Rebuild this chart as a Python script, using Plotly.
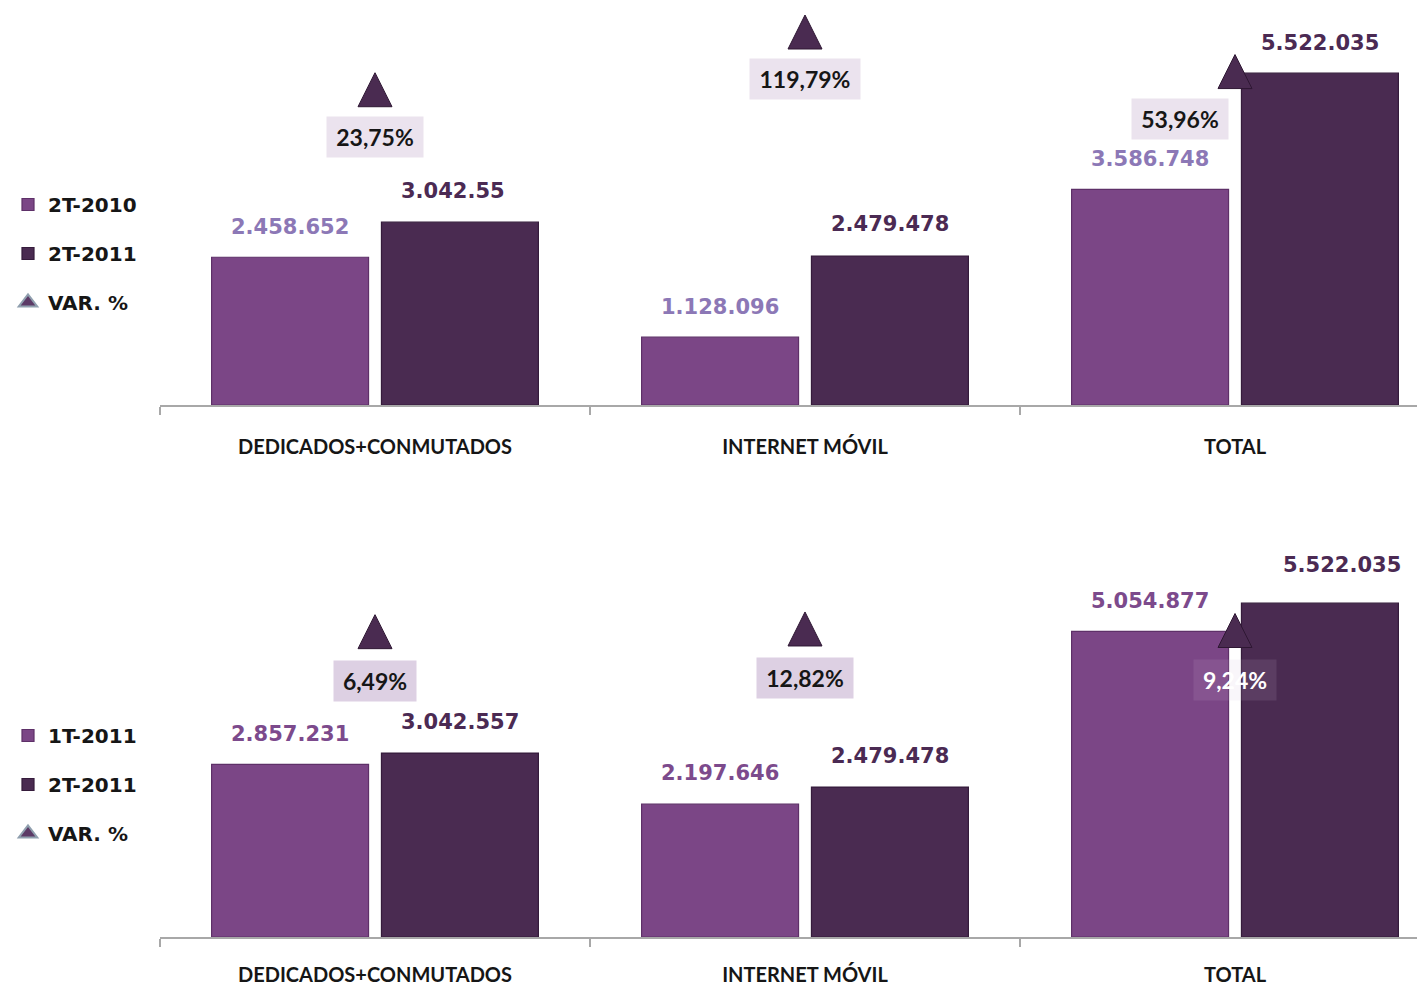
import plotly.graph_objects as go

# ---------------- data ----------------
categories = ["DEDICADOS+CONMUTADOS", "INTERNET MÓVIL", "TOTAL"]

top_series_a_name = "2T-2010"
top_series_b_name = "2T-2011"
top_a_values = [2458652, 1128096, 3586748]
top_b_values = [3042557, 2479478, 5522035]
top_a_labels = ["2.458.652", "1.128.096", "3.586.748"]
top_b_labels = ["3.042.55", "2.479.478", "5.522.035"]
top_var_values = [23.75, 119.79, 53.96]
top_var_labels = ["23,75%", "119,79%", "53,96%"]

bot_series_a_name = "1T-2011"
bot_series_b_name = "2T-2011"
bot_a_values = [2857231, 2197646, 5054877]
bot_b_values = [3042557, 2479478, 5522035]
bot_a_labels = ["2.857.231", "2.197.646", "5.054.877"]
bot_b_labels = ["3.042.557", "2.479.478", "5.522.035"]
bot_var_values = [6.49, 12.82, 9.24]
bot_var_labels = ["6,49%", "12,82%", "9,24%"]

var_name = "VAR. %"

# ---------------- style ----------------
PAGE_OFF = 8          # default page margin around the figure
W, H = 1425 - PAGE_OFF, 986 - PAGE_OFF
COL_A = "#7b4686"
COL_B = "#4a2b51"
COL_A_LINE = "#5e3068"
COL_B_LINE = "#351b3b"
LBL_A_TOP = "#8c78b6"
LBL_A_BOT = "#7c4a8c"
LBL_B = "#4b2a53"
TXT = "#161616"
AXIS_COL = "#a8a8a8"
VALUE_FONT = "DejaVu Sans"
CAT_FONT = "Lato"

BAR_W = 0.365
OFF_A = -0.38
OFF_B = 0.015
CEN_A = OFF_A + BAR_W / 2
CEN_B = OFF_B + BAR_W / 2


def py(p):
    return 1 - (p - PAGE_OFF) / H


def px(p):
    return (p - PAGE_OFF) / W


fig = go.Figure()


def add_panel(xa, ya, ya2, legend, a_name, b_name, a_vals, b_vals, var_vals):
    fig.add_trace(go.Bar(
        x=categories, y=a_vals, name=a_name, xaxis=xa, yaxis=ya,
        offset=OFF_A, width=BAR_W, legend=legend, legendgroup=legend + "a",
        marker=dict(color=COL_A, line=dict(color=COL_A_LINE, width=1.2)),
        hoverinfo="y"))
    fig.add_trace(go.Bar(
        x=categories, y=b_vals, name=b_name, xaxis=xa, yaxis=ya,
        offset=OFF_B, width=BAR_W, legend=legend, legendgroup=legend + "b",
        marker=dict(color=COL_B, line=dict(color=COL_B_LINE, width=1.2)),
        hoverinfo="y"))
    fig.add_trace(go.Scatter(
        x=categories, y=var_vals, name=var_name, xaxis=xa, yaxis=ya2,
        mode="markers", showlegend=False,
        marker=dict(symbol="arrow-up", size=34, color=COL_B,
                    line=dict(color="#2e1733", width=1))))
    # legend-only entry for the triangle series
    fig.add_trace(go.Scatter(
        x=[None], y=[None], name=var_name, xaxis=xa, yaxis=ya2,
        mode="markers", legend=legend, legendgroup=legend + "v",
        marker=dict(symbol="triangle-up", size=19, color="#5c3a66",
                    line=dict(color="#8f9fae", width=2))))


add_panel("x", "y", "y2", "legend", top_series_a_name, top_series_b_name,
          top_a_values, top_b_values, top_var_values)
add_panel("x2", "y3", "y4", "legend2", bot_series_a_name, bot_series_b_name,
          bot_a_values, bot_b_values, bot_var_values)

annotations = []


def value_labels(xref, yref, vals, labels, cen, color, shifts):
    for i, (v, t) in enumerate(zip(vals, labels)):
        dx, dy = shifts[i]
        annotations.append(dict(
            x=i + cen, y=v, xref=xref, yref=yref, text=t, showarrow=False,
            xanchor="center", yanchor="middle", yshift=30 + dy, xshift=dx,
            font=dict(family=VALUE_FONT, size=21, color=color, weight="bold")))


value_labels("x", "y", top_a_values, top_a_labels, CEN_A, LBL_A_TOP, [(0, 0), (0, 0), (0, 0)])
value_labels("x", "y", top_b_values, top_b_labels, CEN_B, LBL_B, [(-7, 1), (0, 2), (0, 0)])
value_labels("x2", "y3", bot_a_values, bot_a_labels, CEN_A, LBL_A_BOT, [(0, 0), (0, 1), (0, 0)])
value_labels("x2", "y3", bot_b_values, bot_b_labels, CEN_B, LBL_B, [(0, 1), (0, 1), (22, 8)])


def var_labels(xref, yref, vals, labels, bgs, colors, xshifts, yshift):
    for i, (v, t) in enumerate(zip(vals, labels)):
        annotations.append(dict(
            x=i, y=v, xref=xref, yref=yref, text=t, showarrow=False,
            xanchor="center", yanchor="middle", yshift=yshift, xshift=xshifts[i],
            width=14 * len(t) + 2, height=30, borderpad=5, bgcolor=bgs[i],
            font=dict(family=CAT_FONT, size=23, color=colors[i], weight="bold")))


var_labels("x", "y2", top_var_values, top_var_labels,
           ["#ebe3ee"] * 3, [TXT] * 3, [0, 0, -55], -64)
var_labels("x2", "y4", bot_var_values, bot_var_labels,
           ["#ddd0e3", "#ddd0e3", "rgba(205,185,215,0.13)"],
           [TXT, TXT, "#ffffff"], [0, 0, 0], -66)

# category width = 430 px; plot spans from the axis start to the right edge of the figure
X0 = 160
x_dom = [px(X0), 1]
x_span = (W - px(X0) * W) / 430.0
xaxis_common = dict(
    type="category", range=[-0.5, -0.5 + x_span], domain=x_dom, automargin=False,
    showline=True, linecolor=AXIS_COL, linewidth=1.5,
    ticks="outside", tickson="boundaries", ticklen=8, tickcolor=AXIS_COL, tickwidth=1.5,
    showgrid=False, zeroline=False,
    tickfont=dict(family=CAT_FONT, size=20, color=TXT, weight="bold"),
)
yaxis_hidden = dict(visible=False, showgrid=False, zeroline=False, fixedrange=True,
                    automargin=False)

legend_common = dict(
    x=0, xanchor="left", yanchor="top", traceorder="grouped",
    tracegroupgap=20, bgcolor="rgba(0,0,0,0)",
    font=dict(family=VALUE_FONT, size=20, color=TXT, weight="bold"),
)

fig.update_layout(
    width=W, height=H, margin=dict(l=0, r=0, t=0, b=0),
    paper_bgcolor="white", plot_bgcolor="white",
    barmode="overlay", showlegend=True,
    xaxis=dict(anchor="y", ticklabelstandoff=23, **xaxis_common),
    yaxis=dict(domain=[py(405), 1], range=[0, (405 - PAGE_OFF) / 60.1 * 1e6], anchor="x", **yaxis_hidden),
    yaxis2=dict(overlaying="y", anchor="x", side="right",
                range=[-318 / 0.601, (87 - PAGE_OFF) / 0.601], **yaxis_hidden),
    xaxis2=dict(anchor="y3", ticklabelstandoff=19, **xaxis_common),
    yaxis3=dict(domain=[py(937), py(532)], range=[0, 6.70e6], anchor="x2", **yaxis_hidden),
    yaxis4=dict(overlaying="y3", anchor="x2", side="right", range=[-748, 200], **yaxis_hidden),
    legend=dict(y=py(185), **legend_common),
    legend2=dict(y=py(716), **legend_common),
    annotations=annotations,
)

fig.write_html("out.html")
